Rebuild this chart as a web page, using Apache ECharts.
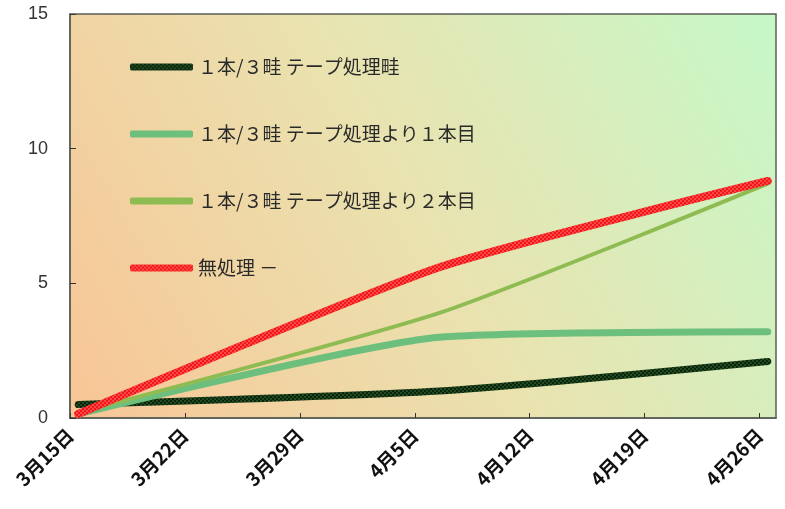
<!DOCTYPE html>
<html>
<head>
<meta charset="utf-8">
<script src="https://cdn.jsdelivr.net/npm/echarts@6/dist/echarts.min.js"></script>
<style>
  html, body { margin: 0; padding: 0; background: #ffffff; }
  #chart { width: 785px; height: 509px; }
</style>
</head>
<body>
<div id="chart"></div>
<script>
// Observation dates (same year) and tick labels along the date axis
const obsDates = ['2000-03-15', '2000-04-06', '2000-04-26'];
const axisStart = '2000-03-15';
const tickLabels = ['3月15日', '3月22日', '3月29日', '4月5日', '4月12日', '4月19日', '4月26日'];
const yTicks = [0, 5, 10, 15];

// Series names and values
const seriesNames = [
  '１本/３畦 テープ処理畦',
  '１本/３畦 テープ処理より１本目',
  '１本/３畦 テープ処理より２本目',
  '無処理 －'
];
const tapeRow      = [0.5, 1.0, 2.1];
const firstRow     = [0.15, 3.0, 3.2];
const secondRow    = [0.2, 3.9, 8.7];
const untreated    = [0.15, 5.6, 8.8];

const DAY = 86400000;
const dayOffset = d => (Date.parse(d) - Date.parse(axisStart)) / DAY;
// points sit in the middle of their day on the date axis
const toPoints = vals => vals.map((v, i) => [dayOffset(obsDates[i]) + 0.5, v]);

// small dotted textures for the patterned lines
function dots(base, dot, size) {
  const c = document.createElement('canvas');
  c.width = size; c.height = size;
  const g = c.getContext('2d');
  g.fillStyle = base; g.fillRect(0, 0, size, size);
  g.fillStyle = dot;
  g.beginPath(); g.arc(size / 4, size / 4, size / 5, 0, Math.PI * 2); g.fill();
  g.beginPath(); g.arc(size * 3 / 4, size * 3 / 4, size / 5, 0, Math.PI * 2); g.fill();
  return { image: c, repeat: 'repeat' };
}
const redTex = dots('#f41616', '#ff8c8c', 4);
const darkTex = dots('#0b230b', '#3f7f3f', 4);

const chart = echarts.init(document.getElementById('chart'), null, { renderer: 'canvas' });

const textFont = '"Noto Sans CJK JP", "Noto Sans", sans-serif';

chart.setOption({
  animation: false,
  backgroundColor: '#ffffff',
  grid: {
    left: 70, top: 14, right: 9, bottom: 91,
    show: true,
    borderColor: '#5a5f55',
    borderWidth: 1.5,
    backgroundColor: new echarts.graphic.LinearGradient(0, 1, 1, 0, [
      { offset: 0, color: '#f9c596' },
      { offset: 0.5, color: '#e9e3b0' },
      { offset: 1, color: '#c6f8c8' }
    ])
  },
  legend: {
    orient: 'vertical',
    left: 125,
    top: 52,
    icon: 'roundRect',
    itemWidth: 63,
    itemHeight: 7,
    itemGap: 47,
    data: seriesNames.map(n => ({ name: n, icon: 'roundRect' })),
    textStyle: {
      fontFamily: textFont,
      fontSize: 19,
      lineHeight: 20,
      color: '#2a2a2a'
    }
  },
  xAxis: {
    type: 'value',
    min: 0,
    max: 43,
    interval: 7,
    axisLine: { show: true, lineStyle: { color: '#5a5f55', width: 1.5 } },
    axisTick: { show: true, inside: true, length: 5, lineStyle: { color: '#333' } },
    splitLine: { show: false },
    axisLabel: {
      rotate: 45,
      margin: 14,
      showMaxLabel: false,
      fontFamily: textFont,
      fontSize: 19,
      fontWeight: 'bold',
      color: '#111',
      formatter: v => (v % 7 === 0 ? (tickLabels[v / 7] || '') : '')
    }
  },
  yAxis: {
    type: 'value',
    min: yTicks[0],
    max: yTicks[yTicks.length - 1],
    interval: 5,
    axisLine: { show: true, lineStyle: { color: '#5a5f55', width: 1.5 } },
    axisTick: { show: true, inside: true, length: 6, lineStyle: { color: '#333' } },
    splitLine: { show: false },
    axisLabel: {
      margin: 22,
      fontFamily: '"Liberation Sans", Arial, sans-serif',
      fontSize: 18,
      color: '#333'
    }
  },
  series: [
    {
      name: seriesNames[0], type: 'line', data: toPoints(tapeRow),
      symbol: 'none', smooth: 0.2,
      lineStyle: { color: darkTex, width: 7, cap: 'round' },
      itemStyle: { color: darkTex }
    },
    {
      name: seriesNames[1], type: 'line', data: toPoints(firstRow),
      symbol: 'none', smooth: 0.2,
      lineStyle: { color: '#6dbf7d', width: 7, cap: 'round' },
      itemStyle: { color: '#6dbf7d' }
    },
    {
      name: seriesNames[2], type: 'line', data: toPoints(secondRow),
      symbol: 'none', smooth: 0.2,
      lineStyle: { color: '#8fbc52', width: 4, cap: 'round' },
      itemStyle: { color: '#8fbc52' }
    },
    {
      name: seriesNames[3], type: 'line', data: toPoints(untreated),
      symbol: 'none', smooth: 0.2,
      lineStyle: { color: redTex, width: 8, cap: 'round' },
      itemStyle: { color: redTex }
    }
  ]
});
</script>
</body>
</html>
